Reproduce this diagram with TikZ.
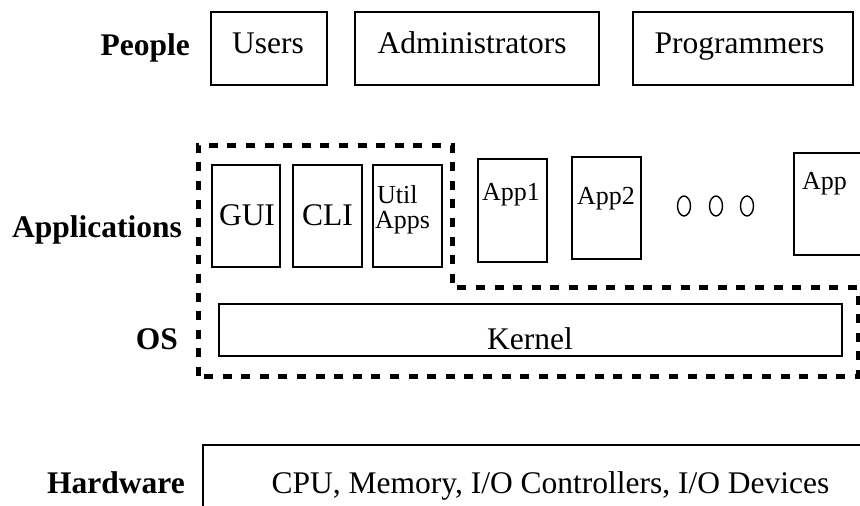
\documentclass[tikz,border=0pt]{standalone}
\usepackage{fontspec}
\setmainfont{Liberation Serif}
\usetikzlibrary{shapes.geometric}
\tikzset{
  box/.style={draw, line width=1.6pt, inner sep=0pt, rectangle},
  txt/.style={inner sep=0pt, font=\fontsize{31.5}{36}\selectfont},
  stxt/.style={inner sep=0pt, font=\fontsize{26}{30}\selectfont},
  lbl/.style={inner sep=0pt, font=\fontsize{31.5}{36}\selectfont\bfseries},
  osline/.style={line width=5pt, dash pattern=on 9pt off 9.6pt},
  dot/.style={draw, ellipse, line width=1.4pt, inner sep=0pt, minimum width=13pt, minimum height=20pt}
}
\begin{document}
\begin{tikzpicture}[x=1pt, y=-1pt]
\useasboundingbox (0,0) rectangle (860,506);
% People row
\node[lbl, anchor=base east] (people) at (190,55) {People};
\node[box, minimum width=116pt, minimum height=73pt] (users) at (269,48.5) {};
\node[txt, anchor=base] (userst) at (268,53) {Users};
\node[box, minimum width=244pt, minimum height=73pt] (admins) at (477,48.5) {};
\node[txt, anchor=base] (adminst) at (472,53) {Administrators};
\node[box, minimum width=220pt, minimum height=73pt] (progs) at (743,48.5) {};
\node[txt, anchor=base] (progst) at (739.5,53) {Programmers};
% Applications row
\node[lbl, anchor=base east] (apps) at (182,237) {Applications};
\node[box, minimum width=68pt, minimum height=102pt] (gui) at (246,216) {};
\node[txt, anchor=base] (guit) at (247,225) {GUI};
\node[box, minimum width=69pt, minimum height=102pt] (cli) at (327.5,216) {};
\node[txt, anchor=base] (clit) at (327.5,225) {CLI};
\node[box, minimum width=69pt, minimum height=102pt] (util) at (407.5,216) {};
\node[stxt, anchor=base west] (utilt) at (377,203) {Util};
\node[stxt, anchor=base west] (utila) at (375,228) {Apps};
\node[box, minimum width=69pt, minimum height=103pt] (app1) at (512.5,210.5) {};
\node[stxt, anchor=base west] (app1t) at (482,200) {App1};
\node[box, minimum width=69pt, minimum height=102pt] (app2) at (606.5,208) {};
\node[stxt, anchor=base west] (app2t) at (577,204) {App2};
\node[dot] (d1) at (684,206) {};
\node[dot] (d2) at (716,206) {};
\node[dot] (d3) at (747,206) {};
\node[box, minimum width=96pt, minimum height=102pt] (appn) at (842,204) {};
\node[stxt, anchor=base west] (appnt) at (802,189) {App};
% OS row
\node[lbl, anchor=base east] (os) at (178,349) {OS};
\node[box, minimum width=623pt, minimum height=52pt] (kernel) at (530.5,330) {};
\node[txt, anchor=base] (kernelt) at (530,349) {Kernel};
% OS boundary
\coordinate (b1) at (198,376);
\coordinate (b2) at (198,145);
\coordinate (b3) at (452,145);
\coordinate (b4) at (452,287);
\coordinate (b5) at (858,287);
\coordinate (b6) at (858,376);
\draw[osline] (b1) -- (b2) -- (b3) -- (b4) -- (b5) -- (b6) -- cycle;
% Hardware row
\node[lbl, anchor=base east] (hwl) at (185,493) {Hardware};
\node[box, minimum width=677pt, minimum height=85pt] (hw) at (541.5,487.5) {};
\node[txt, anchor=base] (hwt) at (550.5,493) {CPU, Memory, I/O Controllers, I/O Devices};
\end{tikzpicture}
\end{document}
